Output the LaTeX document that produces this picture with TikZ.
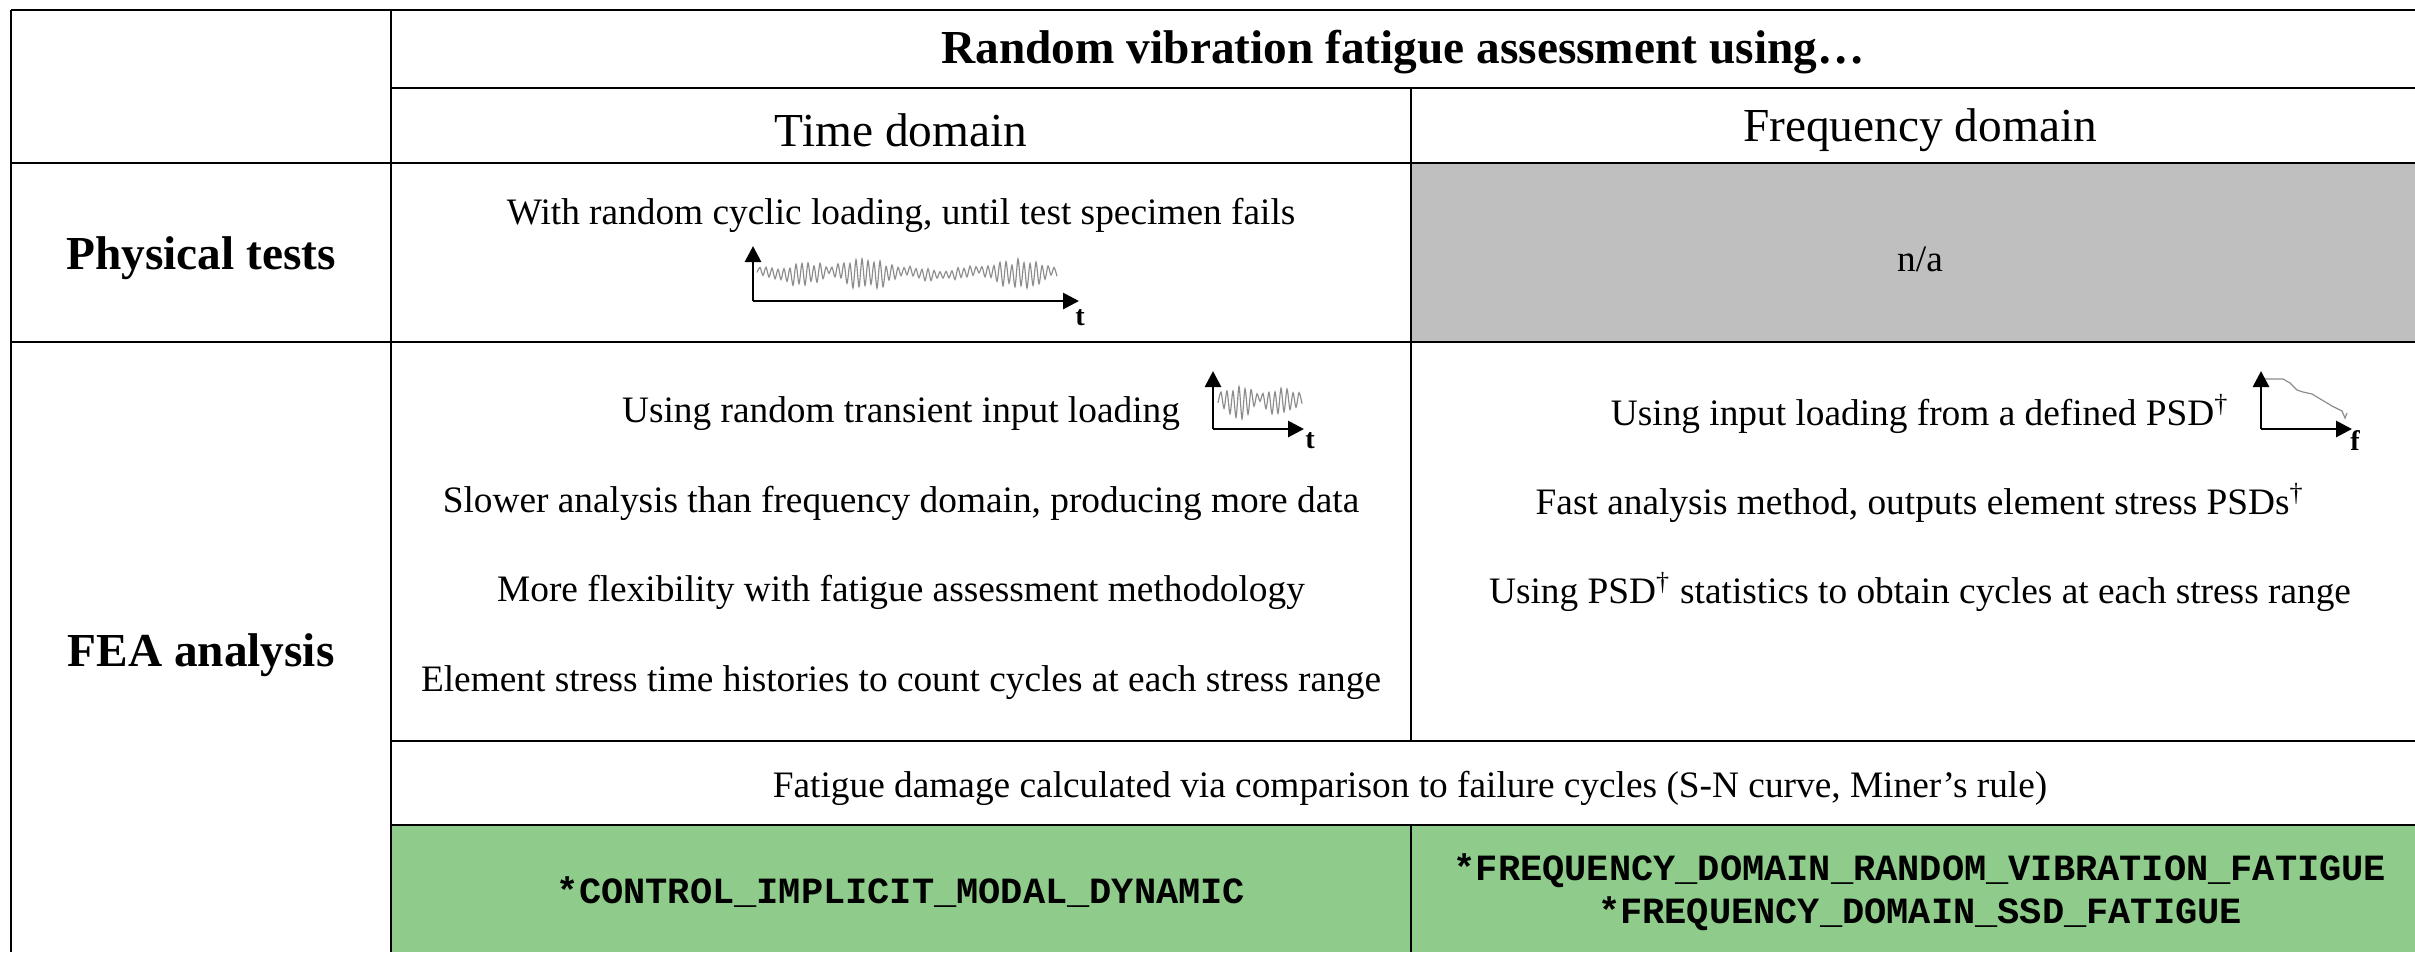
\documentclass[tikz,border=0pt]{standalone}
\usepackage{fontspec}
\setmainfont{Liberation Serif}
\setmonofont{Liberation Mono}
\usetikzlibrary{arrows.meta}
\definecolor{cellgray}{HTML}{BFBFBF}
\definecolor{cellgreen}{HTML}{8FCC8B}
\definecolor{sig}{HTML}{8C8C8C}
\begin{document}
\begin{tikzpicture}[x=0.3pt,y=-0.3pt,
 grid/.style={line width=0.6pt},
 body/.style={inner sep=0pt, font=\fontsize{11.2}{13.4}\selectfont},
 head/.style={inner sep=0pt, font=\fontsize{14.2}{17}\selectfont},
 headb/.style={inner sep=0pt, font=\fontsize{14.2}{17}\selectfont\bfseries},
 code/.style={inner sep=0pt, align=center, font=\fontsize{11.1}{12.9}\selectfont\ttfamily\bfseries},
 axis/.style={line width=0.85pt, -{Triangle[length=4.8pt,width=4.8pt]}},
 axlab/.style={inner sep=0pt, font=\fontsize{8.5}{10}\selectfont\bfseries},
 signal/.style={draw=sig, line width=0.35pt}]
\useasboundingbox (0,0) rectangle (2415,952);
% fills
\fill[cellgray] (1411,163) rectangle (2415,342);
\fill[cellgreen] (391,825) rectangle (2415,952);
% grid lines
\draw[grid] (11,10) -- (2415,10);
\draw[grid] (391,88) -- (2415,88);
\draw[grid] (11,163) -- (2415,163);
\draw[grid] (11,342) -- (2415,342);
\draw[grid] (391,741) -- (2415,741);
\draw[grid] (391,825) -- (2415,825);
\draw[grid] (11,10) -- (11,952);
\draw[grid] (391,10) -- (391,952);
\draw[grid] (1411,88) -- (1411,741);
\draw[grid] (1411,825) -- (1411,952);
% headers
\node[headb] (title) at (1403,52) {Random vibration fatigue assessment using…};
\node[head] (td) at (901,130) {Time domain};
\node[head] (fd) at (1920,130) {Frequency domain};
\node[headb] (pt) at (201,258) {Physical tests};
\node[headb] (fea) at (201,655) {FEA analysis};
% physical tests
\node[body] (pt1) at (901,215) {With random cyclic loading, until test specimen fails};
\node[body] (na) at (1920,259) {n/a};
\pgfmathsetseed{7}
\draw[signal] plot[domain=0:100, samples=101, smooth] ({757+3*\x}, {270+(1-2*mod(\x,2))*(4+13*abs(sin(\x*7.3))*abs(sin(\x*2.9)))*(0.55+0.45*rnd)+5*abs(sin(\x*7.3))});
\coordinate (g1o) at (753,301);
\coordinate (g1y) at (753,246);
\coordinate (g1x) at (1079,301);
\draw[axis] (g1o) -- (g1y);
\draw[axis] (g1o) -- (g1x);
\node[axlab] (g1t) at (1080,318) {t};
% FEA time domain
\node[body] (t1) at (901,414) {Using random transient input loading};
\node[body] (t2) at (901,503) {Slower analysis than frequency domain, producing more data};
\node[body] (t3) at (901,592) {More flexibility with fatigue assessment methodology};
\node[body] (t4) at (901,683) {Element stress time histories to count cycles at each stress range};
\pgfmathsetseed{11}
\draw[signal] plot[domain=0:28, samples=29, smooth] ({1218+3*\x}, {398+(1-2*mod(\x,2))*(5+13*abs(sin(\x*13)))*(0.55+0.45*rnd)+4*abs(sin(\x*13))});
\coordinate (g2o) at (1213,429);
\coordinate (g2y) at (1213,371);
\coordinate (g2x) at (1304,429);
\draw[axis] (g2o) -- (g2y);
\draw[axis] (g2o) -- (g2x);
\node[axlab] (g2t) at (1310,441) {t};
% FEA frequency domain
\node[body] (f1) at (1920,414) {Using input loading from a defined PSD\textsuperscript{†}};
\node[body] (f2) at (1920,503) {Fast analysis method, outputs element stress PSDs\textsuperscript{†}};
\node[body] (f3) at (1920,592) {Using PSD\textsuperscript{†} statistics to obtain cycles at each stress range};
\draw[signal] (2265,379) -- (2283,379) -- (2290,383) -- (2297,390) -- (2303,392) -- (2312,394) -- (2322,400) -- (2332,406) -- (2342,411) -- (2345,418) -- (2347,413);
\coordinate (g3o) at (2261,429);
\coordinate (g3y) at (2261,371);
\coordinate (g3x) at (2352,429);
\draw[axis] (g3o) -- (g3y);
\draw[axis] (g3o) -- (g3x);
\node[axlab] (g3f) at (2355,441) {f};
% fatigue row
\node[body] (fat) at (1410,788) {Fatigue damage calculated via comparison to failure cycles (S-N curve, Miner’s rule)};
\node[code] (c1) at (901,892) {*CONTROL\_IMPLICIT\_MODAL\_DYNAMIC};
\node[code] (c2) at (1920,892) {*FREQUENCY\_DOMAIN\_RANDOM\_VIBRATION\_FATIGUE\\*FREQUENCY\_DOMAIN\_SSD\_FATIGUE};
\end{tikzpicture}
\end{document}
